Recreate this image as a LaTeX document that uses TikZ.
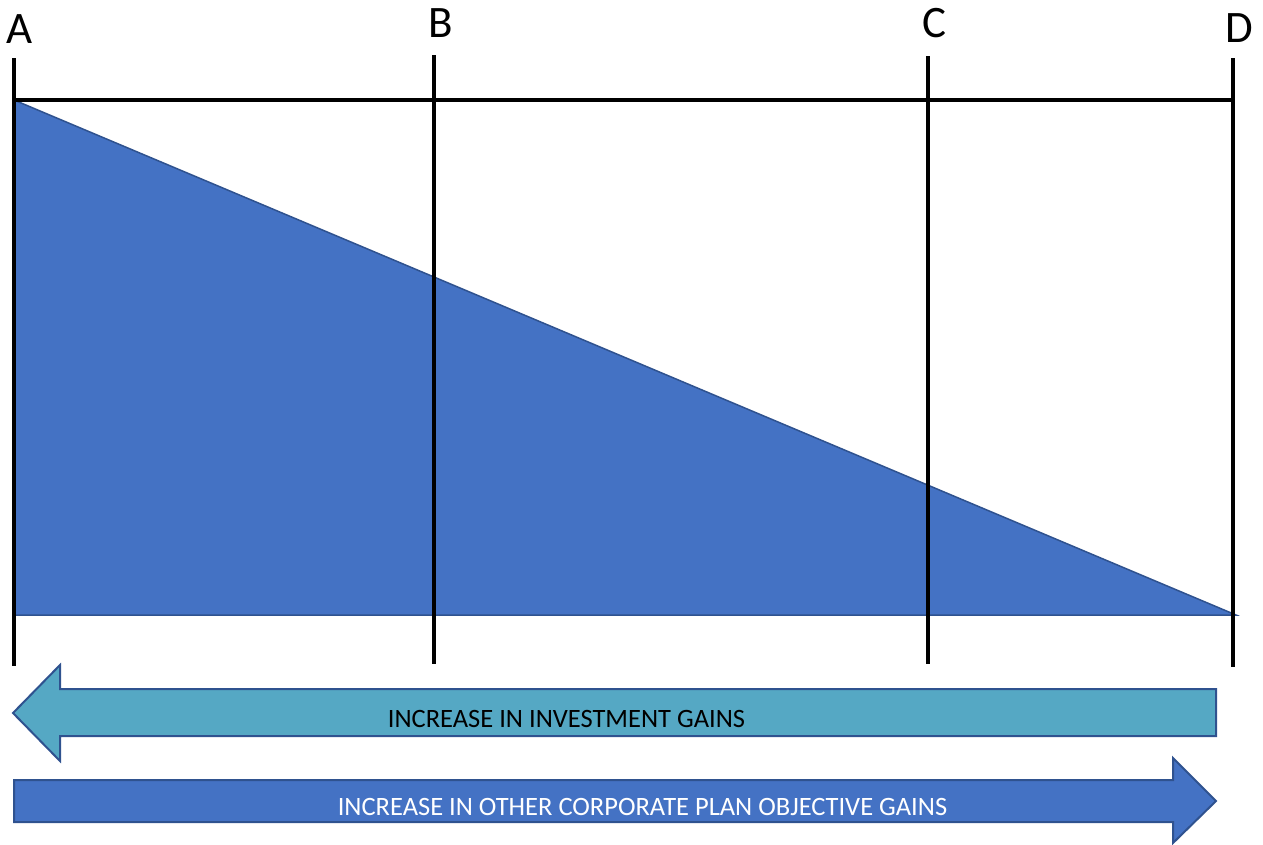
\documentclass[tikz,border=0pt]{standalone}
\usepackage{fontspec}
\setmainfont{Carlito}
\definecolor{triblue}{HTML}{4472C4}
\definecolor{edgeblue}{HTML}{2F528F}
\definecolor{teal1}{HTML}{55A8C4}
\tikzset{
  tick/.style={line width=4pt, black},
  letter/.style={anchor=base, inner sep=0pt, font=\fontsize{45}{50}\selectfont},
  arrowtext/.style={inner sep=0pt, font=\fontsize{26.5}{30}\selectfont},
  arrowshape/.style={draw=edgeblue, line width=2pt, line join=miter}
}
\begin{document}
\begin{tikzpicture}[x=1pt,y=-1pt]
\useasboundingbox (0,0) rectangle (1263,844);
% triangle
\coordinate (tA) at (14,100);
\coordinate (tB) at (14,615);
\coordinate (tD) at (1236,615);
\fill[triblue] (tA) -- (tD) -- (tB) -- cycle;
\draw[edgeblue, line width=1.5pt] (tA) -- (tD) -- (tB);
% tick lines
\coordinate (Atop) at (14,58);  \coordinate (Abot) at (14,666);
\coordinate (Btop) at (434,55); \coordinate (Bbot) at (434,664);
\coordinate (Ctop) at (928,56); \coordinate (Cbot) at (928,664);
\coordinate (Dtop) at (1233,58); \coordinate (Dbot) at (1233,667);
\coordinate (Hl) at (14,100); \coordinate (Hr) at (1233,100);
\draw[tick] (Hl) -- (Hr);
\draw[tick] (Atop) -- (Abot);
\draw[tick] (Btop) -- (Bbot);
\draw[tick] (Ctop) -- (Cbot);
\draw[tick] (Dtop) -- (Dbot);
% letters
\node[letter] (lA) at (20,43) {A};
\node[letter] (lB) at (441,37) {B};
\node[letter] (lC) at (934,37) {C};
\node[letter] (lD) at (1239,42) {D};
% left arrow
\draw[arrowshape, fill=teal1] (13,713) -- (60,665) -- (60,689) -- (1216,689) -- (1216,736) -- (60,736) -- (60,761) -- cycle;
\node[arrowtext, text=black] (t1) at (566.5,718.5) {INCREASE IN INVESTMENT GAINS};
% right arrow
\draw[arrowshape, fill=triblue] (14,780) -- (1173,780) -- (1173,758) -- (1216,801) -- (1173,843) -- (1173,822) -- (14,822) -- cycle;
\node[arrowtext, text=white] (t2) at (642.5,806.5) {INCREASE IN OTHER CORPORATE PLAN OBJECTIVE GAINS};
\end{tikzpicture}
\end{document}
